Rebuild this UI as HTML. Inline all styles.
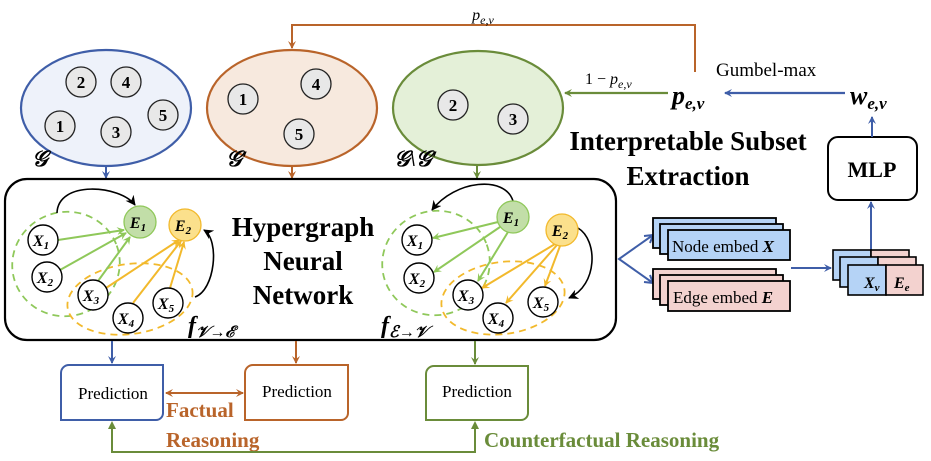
<!DOCTYPE html>
<html><head><meta charset="utf-8"><style>
html,body{margin:0;padding:0;background:#fff;}
svg{display:block;font-family:"Liberation Serif",serif;}
</style></head><body>
<svg width="931" height="461" viewBox="0 0 931 461" xmlns="http://www.w3.org/2000/svg">
<defs>
<marker id="ab" markerWidth="8" markerHeight="8" refX="7" refY="4" orient="auto" markerUnits="userSpaceOnUse"><path d="M0,0 L8,4 L0,8 L3,4z" fill="#3f5ea8"/></marker>
<marker id="ao" markerWidth="8" markerHeight="8" refX="7" refY="4" orient="auto" markerUnits="userSpaceOnUse"><path d="M0,0 L8,4 L0,8 L3,4z" fill="#b9642a"/></marker>
<marker id="ao2" markerWidth="8" markerHeight="8" refX="1" refY="4" orient="auto" markerUnits="userSpaceOnUse"><path d="M8,0 L0,4 L8,8 L5,4z" fill="#b9642a"/></marker>
<marker id="ag" markerWidth="8" markerHeight="8" refX="7" refY="4" orient="auto" markerUnits="userSpaceOnUse"><path d="M0,0 L8,4 L0,8 L3,4z" fill="#6a8c3a"/></marker>
<marker id="ak" markerWidth="10" markerHeight="10" refX="9" refY="5" orient="auto" markerUnits="userSpaceOnUse"><path d="M0,0 L10,5 L0,10 L3,5z" fill="#000"/></marker>
<marker id="alg" markerWidth="8" markerHeight="8" refX="7" refY="4" orient="auto" markerUnits="userSpaceOnUse"><path d="M0,0 L8,4 L0,8 L3,4z" fill="#8fc85a"/></marker>
<marker id="aly" markerWidth="8" markerHeight="8" refX="7" refY="4" orient="auto" markerUnits="userSpaceOnUse"><path d="M0,0 L8,4 L0,8 L3,4z" fill="#f2b92c"/></marker>
</defs>

<!-- top feedback -->
<polyline points="695,72 695,25 292,25 292,48" fill="none" stroke="#b9642a" stroke-width="2" marker-end="url(#ao)"/>
<text x="483" y="20" font-size="16" font-style="italic" text-anchor="middle">p<tspan font-size="12" dy="4">e,v</tspan></text>

<!-- ellipses -->
<ellipse cx="106" cy="108" rx="85" ry="58" fill="#eef2fa" stroke="#3f5ea8" stroke-width="2.2"/>
<ellipse cx="292" cy="108" rx="85" ry="58" fill="#f7e9de" stroke="#b9642a" stroke-width="2.2"/>
<ellipse cx="478" cy="108" rx="85" ry="57" fill="#e4f0d8" stroke="#6a8c3a" stroke-width="2.2"/>
<g fill="#e8e8e8" stroke="#222" stroke-width="1.3">
<circle cx="81" cy="82" r="15"/><circle cx="126" cy="82" r="15"/><circle cx="60" cy="126" r="15"/><circle cx="116" cy="132" r="15"/><circle cx="163" cy="115" r="15"/>
<circle cx="243" cy="99" r="15"/><circle cx="316" cy="84" r="15"/><circle cx="299" cy="134" r="15"/>
<circle cx="453" cy="105" r="15"/><circle cx="513" cy="119" r="15"/>
</g>
<g font-size="17" font-weight="bold" text-anchor="middle">
<text x="81" y="88">2</text><text x="126" y="88">4</text><text x="60" y="132">1</text><text x="116" y="138">3</text><text x="163" y="121">5</text>
<text x="243" y="105">1</text><text x="316" y="90">4</text><text x="299" y="140">5</text>
<text x="453" y="111">2</text><text x="513" y="125">3</text>
</g>
<g font-size="22" font-style="italic" font-weight="bold">
<text x="32" y="166">𝒢</text><text x="226" y="166">𝒢′</text><text x="394" y="166">𝒢\𝒢′</text>
</g>
<line x1="106" y1="166" x2="106" y2="178" stroke="#3f5ea8" stroke-width="2" marker-end="url(#ab)"/>
<line x1="292" y1="166" x2="292" y2="178" stroke="#b9642a" stroke-width="2" marker-end="url(#ao)"/>
<line x1="477" y1="166" x2="477" y2="178" stroke="#6a8c3a" stroke-width="2" marker-end="url(#ag)"/>

<!-- right top -->
<line x1="668" y1="93" x2="565" y2="93" stroke="#6a8c3a" stroke-width="2.2" marker-end="url(#ag)"/>
<text x="585" y="84" font-size="16">1 − <tspan font-style="italic">p</tspan><tspan font-size="12" font-style="italic" dy="4">e,v</tspan></text>
<text x="672" y="104" font-size="26" font-style="italic" font-weight="bold">p<tspan font-size="17" dy="5">e,v</tspan></text>
<line x1="845" y1="93" x2="725" y2="93" stroke="#3f5ea8" stroke-width="2.2" marker-end="url(#ab)"/>
<text x="716" y="76" font-size="19">Gumbel-max</text>
<text x="850" y="104" font-size="26" font-style="italic" font-weight="bold">w<tspan font-size="17" dy="5">e,v</tspan></text>
<text x="688" y="150" font-size="27" font-weight="bold" text-anchor="middle">Interpretable Subset</text>
<text x="688" y="185" font-size="27" font-weight="bold" text-anchor="middle">Extraction</text>
<rect x="828" y="137" width="89" height="63" rx="10" fill="#fff" stroke="#000" stroke-width="2"/>
<text x="872" y="177" font-size="22" font-weight="bold" text-anchor="middle">MLP</text>
<line x1="872" y1="137" x2="872" y2="117" stroke="#3f5ea8" stroke-width="2" marker-end="url(#ab)"/>
<line x1="871" y1="250" x2="871" y2="202" stroke="#3f5ea8" stroke-width="2" marker-end="url(#ab)"/>

<!-- main box -->
<rect x="5" y="179" width="611" height="161" rx="22" fill="#fff" stroke="#000" stroke-width="2.2"/>
<text x="303" y="236" font-size="27" font-weight="bold" text-anchor="middle">Hypergraph</text>
<text x="303" y="270" font-size="27" font-weight="bold" text-anchor="middle">Neural</text>
<text x="303" y="304" font-size="27" font-weight="bold" text-anchor="middle">Network</text>

<!-- left hypergraph -->
<ellipse cx="66" cy="264" rx="54" ry="52" fill="none" stroke="#8fc85a" stroke-width="1.8" stroke-dasharray="7,5" transform="rotate(-20 66 264)"/>
<ellipse cx="130" cy="299" rx="63" ry="35" fill="none" stroke="#f2b92c" stroke-width="1.8" stroke-dasharray="7,5" transform="rotate(-8 130 299)"/>
<g stroke="#8fc85a" stroke-width="2" marker-end="url(#alg)">
<line x1="58" y1="240" x2="124" y2="230"/><line x1="60" y1="270" x2="126" y2="233"/><line x1="98" y1="281" x2="130" y2="237"/>
</g>
<g stroke="#f2b92c" stroke-width="2" marker-end="url(#aly)">
<line x1="106" y1="288" x2="179" y2="240"/><line x1="133" y1="303" x2="181" y2="241"/><line x1="170" y1="288" x2="184" y2="242"/>
</g>
<path d="M57,213 C58,180 120,185 135,205" fill="none" stroke="#000" stroke-width="1.6" marker-end="url(#ak)"/>
<path d="M195,297 C215,290 220,240 204,230" fill="none" stroke="#000" stroke-width="1.6" marker-end="url(#ak)"/>

<!-- right hypergraph -->
<ellipse cx="436" cy="263" rx="54" ry="52" fill="none" stroke="#8fc85a" stroke-width="1.8" stroke-dasharray="7,5" transform="rotate(-20 436 263)"/>
<ellipse cx="503" cy="298" rx="62" ry="36" fill="none" stroke="#f2b92c" stroke-width="1.8" stroke-dasharray="7,5" transform="rotate(-8 503 298)"/>
<g stroke="#8fc85a" stroke-width="2" marker-end="url(#alg)">
<line x1="498" y1="222" x2="433" y2="238"/><line x1="500" y1="227" x2="434" y2="272"/><line x1="508" y1="232" x2="478" y2="281"/>
</g>
<g stroke="#f2b92c" stroke-width="2" marker-end="url(#aly)">
<line x1="555" y1="244" x2="482" y2="288"/><line x1="557" y1="245" x2="506" y2="303"/><line x1="560" y1="246" x2="545" y2="286"/>
</g>
<path d="M513,201 C505,175 455,180 432,210" fill="none" stroke="#000" stroke-width="1.6" marker-end="url(#ak)"/>
<path d="M578,228 C598,240 598,285 569,298" fill="none" stroke="#000" stroke-width="1.6" marker-end="url(#ak)"/>

<g stroke-width="1.3">
<circle cx="140" cy="222" r="16" fill="#c2dea8" stroke="#8fc85a"/><circle cx="185" cy="225" r="16" fill="#fbe08c" stroke="#f2b92c"/>
<circle cx="513" cy="217" r="16" fill="#c2dea8" stroke="#8fc85a"/><circle cx="562" cy="230" r="16" fill="#fbe08c" stroke="#f2b92c"/>
</g>
<g fill="#fff" stroke="#000" stroke-width="1.4">
<circle cx="43" cy="240" r="15"/><circle cx="47" cy="277" r="15"/><circle cx="93" cy="295" r="15"/><circle cx="128" cy="318" r="15"/><circle cx="168" cy="303" r="15"/>
<circle cx="417" cy="240" r="15"/><circle cx="419" cy="278" r="15"/><circle cx="468" cy="295" r="15"/><circle cx="498" cy="318" r="15"/><circle cx="543" cy="302" r="15"/>
</g>
<g font-size="16" font-style="italic" font-weight="bold" text-anchor="middle">
<text x="138" y="228">E<tspan font-size="11" dy="3">1</tspan></text><text x="183" y="231">E<tspan font-size="11" dy="3">2</tspan></text>
<text x="511" y="223">E<tspan font-size="11" dy="3">1</tspan></text><text x="560" y="236">E<tspan font-size="11" dy="3">2</tspan></text>
<text x="41" y="246">X<tspan font-size="11" dy="3">1</tspan></text><text x="45" y="283">X<tspan font-size="11" dy="3">2</tspan></text><text x="91" y="301">X<tspan font-size="11" dy="3">3</tspan></text><text x="126" y="324">X<tspan font-size="11" dy="3">4</tspan></text><text x="166" y="309">X<tspan font-size="11" dy="3">5</tspan></text>
<text x="415" y="246">X<tspan font-size="11" dy="3">1</tspan></text><text x="417" y="284">X<tspan font-size="11" dy="3">2</tspan></text><text x="466" y="301">X<tspan font-size="11" dy="3">3</tspan></text><text x="496" y="324">X<tspan font-size="11" dy="3">4</tspan></text><text x="541" y="308">X<tspan font-size="11" dy="3">5</tspan></text>
</g>
<text x="188" y="333" font-size="24" font-style="italic" font-weight="bold">f<tspan font-size="16" dy="4">𝒱→ℰ</tspan></text>
<text x="381" y="333" font-size="24" font-style="italic" font-weight="bold">f<tspan font-size="16" dy="4">ℰ→𝒱</tspan></text>

<!-- embeddings -->
<polyline points="653,235 619,259 653,283" fill="none" stroke="#3f5ea8" stroke-width="2"/>
<path d="M653,235 l-9,1 M653,235 l-3,8" stroke="#3f5ea8" stroke-width="2"/>
<path d="M653,283 l-9,-1 M653,283 l-3,-8" stroke="#3f5ea8" stroke-width="2"/>
<g stroke="#000" stroke-width="1.8" fill="#b5d3f6">
<rect x="653" y="218" width="123" height="30"/><rect x="660" y="224" width="123" height="30"/><rect x="668" y="230" width="122" height="30"/>
</g>
<g stroke="#000" stroke-width="1.8" fill="#f3d2cf">
<rect x="653" y="269" width="123" height="30"/><rect x="660" y="275" width="123" height="30"/><rect x="668" y="281" width="122" height="30"/>
</g>
<text x="672" y="252" font-size="17">Node embed <tspan font-style="italic" font-weight="bold">X</tspan></text>
<text x="673" y="303" font-size="17">Edge embed <tspan font-style="italic" font-weight="bold">E</tspan></text>
<line x1="791" y1="268" x2="831" y2="268" stroke="#3f5ea8" stroke-width="2" marker-end="url(#ab)"/>
<g stroke="#000" stroke-width="1.6">
<rect x="833" y="250" width="38" height="30" fill="#b5d3f6"/><rect x="871" y="250" width="38" height="30" fill="#f3d2cf"/>
<rect x="840" y="257" width="38" height="30" fill="#b5d3f6"/><rect x="878" y="257" width="38" height="30" fill="#f3d2cf"/>
<rect x="848" y="265" width="38" height="30" fill="#b5d3f6"/><rect x="886" y="265" width="37" height="30" fill="#f3d2cf"/>
</g>
<text x="864" y="288" font-size="16" font-style="italic" font-weight="bold">X<tspan font-size="11" dy="3">v</tspan></text>
<text x="894" y="288" font-size="16" font-style="italic" font-weight="bold">E<tspan font-size="11" dy="3">e</tspan></text>

<!-- predictions -->
<line x1="112" y1="341" x2="112" y2="363" stroke="#3f5ea8" stroke-width="2" marker-end="url(#ab)"/>
<line x1="296" y1="341" x2="296" y2="363" stroke="#b9642a" stroke-width="2" marker-end="url(#ao)"/>
<line x1="475" y1="341" x2="475" y2="364" stroke="#6a8c3a" stroke-width="2" marker-end="url(#ag)"/>
<path d="M69,365 H163 V413 a7,7 0 0 1 -7,7 H61 V373 a8,8 0 0 1 8,-8z" fill="#fff" stroke="#3f5ea8" stroke-width="2"/>
<path d="M253,365 H348 V413 a7,7 0 0 1 -7,7 H245 V373 a8,8 0 0 1 8,-8z" fill="#fff" stroke="#b9642a" stroke-width="2"/>
<path d="M434,366 H528 V413 a7,7 0 0 1 -7,7 H426 V374 a8,8 0 0 1 8,-8z" fill="#fff" stroke="#6a8c3a" stroke-width="2"/>
<g font-size="17" text-anchor="middle">
<text x="113" y="399">Prediction</text><text x="297" y="397">Prediction</text><text x="477" y="397">Prediction</text>
</g>
<line x1="166" y1="393" x2="243" y2="393" stroke="#b9642a" stroke-width="2" marker-start="url(#ao2)" marker-end="url(#ao)"/>
<text x="166" y="417" font-size="21" font-weight="bold" fill="#b9642a">Factual</text>
<text x="166" y="447" font-size="21" font-weight="bold" fill="#b9642a">Reasoning</text>
<polyline points="112,423 112,452 475,452 475,423" fill="none" stroke="#6a8c3a" stroke-width="2"/>
<path d="M112,421 l-4,8 l8,0z M475,421 l-4,8 l8,0z" fill="#6a8c3a"/>
<text x="484" y="447" font-size="21" font-weight="bold" fill="#6a8c3a">Counterfactual Reasoning</text>
</svg>
</body></html>
